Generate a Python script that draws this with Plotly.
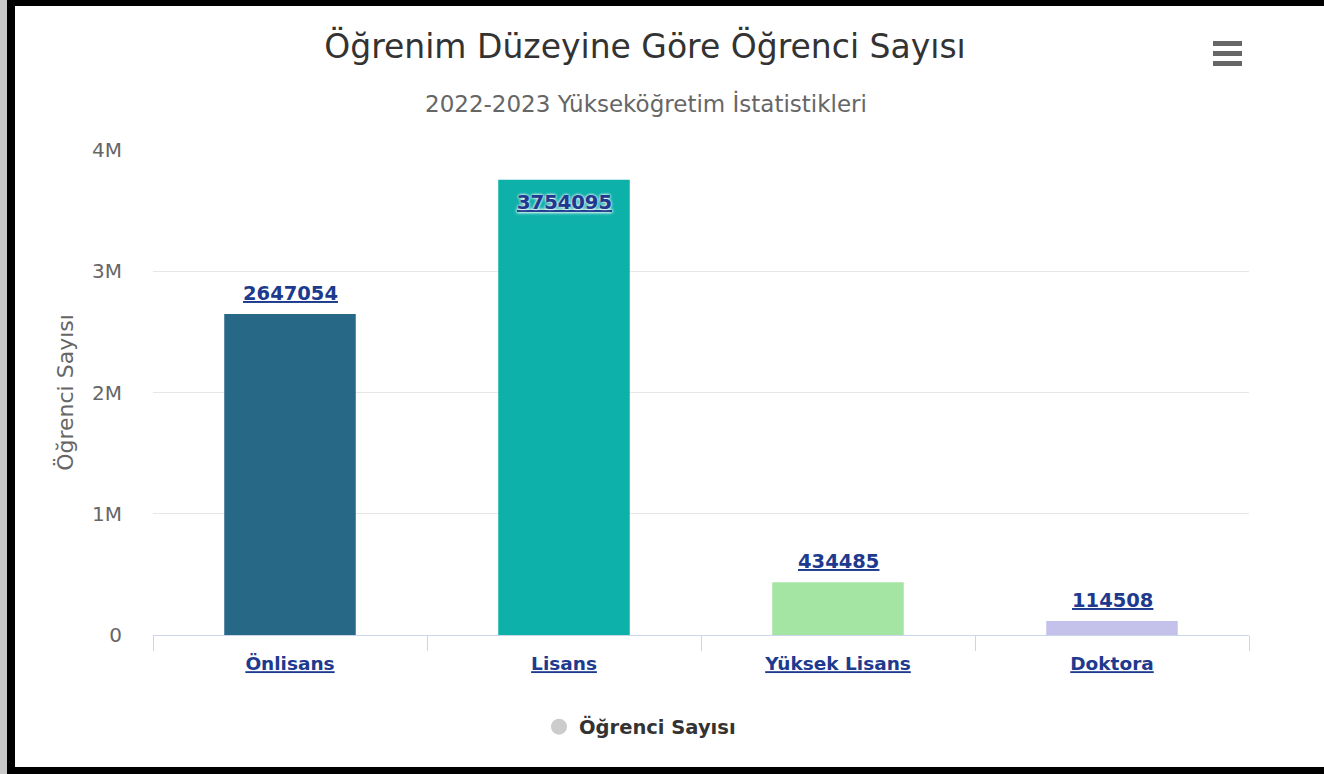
import plotly.graph_objects as go

categories = ["Önlisans", "Lisans", "Yüksek Lisans", "Doktora"]
values = [2647054, 3754095, 434485, 114508]
bar_colors = ["#266886", "#0eb0aa", "#a4e5a3", "#c4c2eb"]
ytick_vals = [0, 1000000, 2000000, 3000000, 4000000]
ytick_text = ["0", "1M", "2M", "3M", "4M"]
series_name = "Öğrenci Sayısı"
title_text = "Öğrenim Düzeyine Göre Öğrenci Sayısı"
subtitle_text = "2022-2023 Yükseköğretim İstatistikleri"
yaxis_title = "Öğrenci Sayısı"

W, H = 1324, 774
ML, MR, MT, MB = 153, 75, 150, 139
PW, PH = W - ML - MR, H - MT - MB
YMAX = 4000000


def px(x):
    return (x - ML) / PW


def py(y):
    return (H - MB - y) / PH


LINK = "#1d3a8e"
FONT = "DejaVu Sans"

fig = go.Figure()
fig.add_trace(go.Bar(
    x=categories, y=values, marker=dict(color=bar_colors, line=dict(width=0)),
    showlegend=False, hoverinfo="x+y", name=series_name,
))
fig.add_trace(go.Scatter(
    x=[None], y=[None], mode="markers", name=series_name,
    marker=dict(color="#cccccc", size=16, symbol="circle"),
))

annotations = []
for c, v in zip(categories, values):
    inside = v > 0.9 * YMAX
    annotations.append(dict(
        x=c, y=v, xref="x", yref="y", text="<u>%d</u>" % v, showarrow=False,
        yanchor="middle", yshift=-23 if inside else 21,
        font=dict(family=FONT, size=19.5, color=LINK, weight="bold",
                  shadow="0px 0px 3px #ffffff" if inside else "none"),
    ))
annotations.append(dict(
    x=px(645.5), y=py(104), xref="paper", yref="paper",
    text=subtitle_text, showarrow=False, xanchor="center", yanchor="middle",
    font=dict(family=FONT, size=23, color="#666666"),
))

shapes = []
# hamburger menu icon
for yy in [43.5, 53.5, 63.5]:
    shapes.append(dict(type="line", xref="paper", yref="paper",
                       x0=px(1213), x1=px(1242), y0=py(yy), y1=py(yy),
                       line=dict(color="#666666", width=5)))
# screenshot frame
shapes.append(dict(type="rect", xref="paper", yref="paper", x0=px(0), x1=px(7),
                   y0=py(0), y1=py(H), fillcolor="#c8c8c8", line=dict(width=0)))
shapes.append(dict(type="rect", xref="paper", yref="paper", x0=px(7), x1=px(15),
                   y0=py(0), y1=py(H), fillcolor="#000000", line=dict(width=0)))
shapes.append(dict(type="rect", xref="paper", yref="paper", x0=px(7), x1=px(W),
                   y0=py(0), y1=py(6), fillcolor="#000000", line=dict(width=0)))
shapes.append(dict(type="rect", xref="paper", yref="paper", x0=px(7), x1=px(W),
                   y0=py(767), y1=py(H), fillcolor="#000000", line=dict(width=0)))

fig.update_layout(
    width=W, height=H,
    margin=dict(l=ML, r=MR, t=MT, b=MB, autoexpand=False),
    paper_bgcolor="#ffffff", plot_bgcolor="#ffffff",
    bargap=0.52,
    title=dict(text=title_text, x=645 / W, xref="container", xanchor="center",
               y=1 - 46 / H, yref="container", yanchor="middle",
               font=dict(family=FONT, size=33, color="#333333")),
    xaxis=dict(
        type="category", tickvals=categories,
        ticktext=["<u>%s</u>" % c for c in categories],
        tickfont=dict(family=FONT, size=18.5, color=LINK, weight="bold"),
        showline=True, linecolor="#ccd6eb", linewidth=1,
        ticks="outside", tickson="boundaries", ticklen=15, tickcolor="#ccd6eb",
        ticklabelstandoff=12,
        showgrid=False, zeroline=False, fixedrange=True,
    ),
    yaxis=dict(
        range=[0, YMAX], tickvals=ytick_vals, ticktext=ytick_text,
        tickfont=dict(family=FONT, size=20, color="#666666"),
        ticks="outside", ticklen=26, tickcolor="rgba(0,0,0,0)",
        showgrid=True, gridcolor="#e6e6e6", gridwidth=1, zeroline=False,
        showline=False,
        title=dict(text=yaxis_title, standoff=12,
                   font=dict(family=FONT, size=22, color="#666666")),
        fixedrange=True,
    ),
    legend=dict(orientation="h", x=px(539), xanchor="left", y=py(727), yanchor="middle",
                font=dict(family=FONT, size=19.5, color="#333333", weight="bold"),
                bgcolor="rgba(0,0,0,0)"),
    annotations=annotations,
    shapes=shapes,
)

fig.write_html("out.html",
               config={"displayModeBar": False},
               post_script="document.body.style.margin='0';"
                           "document.body.style.overflow='hidden';")
